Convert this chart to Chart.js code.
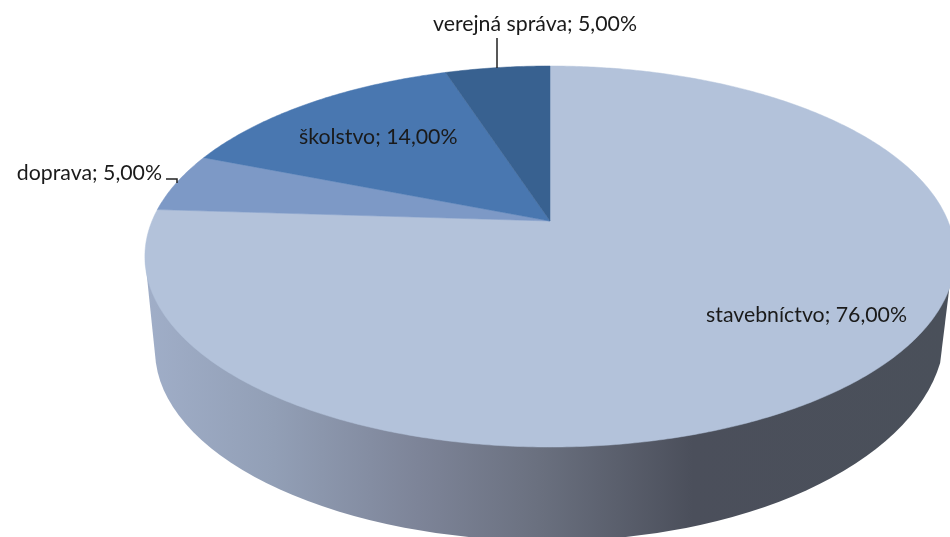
<!DOCTYPE html>
<html>
<head>
<meta charset="utf-8">
<style>html,body{margin:0;padding:0;background:#fff}#wrap{width:950px;height:537px;overflow:hidden}</style>
<script src="https://cdn.jsdelivr.net/npm/chart.js@4"></script>
</head>
<body>
<div id="wrap"><canvas id="c" width="950" height="537"></canvas></div>
<script>
const categories = ['stavebníctvo', 'doprava', 'školstvo', 'verejná správa'];
const shares = [76, 5, 14, 5];
const sliceColors = ['#b3c2da', '#7d99c6', '#4977b0', '#386190'];

// View of the tilted disc
const apexX = 550, apexY = 221, radX = 398, radY = 183.9, tilt = 0.1864;
const labelSpots = [[907, 322, 'right'], [162, 180, 'right'], [299, 144, 'left'], [433, 31, 'left']];
const FONT = '21.3px Lato';

function project(a) {
  const X = Math.cos(a), Y = Math.sin(a), w = 1 - tilt * Y;
  return [apexX + radX * X / w, apexY + radY * Y / w];
}

const disc3d = {
  id: 'disc3d',
  beforeDatasetsDraw(chart) {
    const ctx = chart.ctx;
    ctx.save();
    // side wall
    const g = ctx.createLinearGradient(145, 0, 950, 0);
    g.addColorStop(0, '#a0aec8');
    g.addColorStop(0.16, '#929fb6');
    g.addColorStop(0.34, '#7d8498');
    g.addColorStop(0.49, '#6a707f');
    g.addColorStop(0.68, '#4b4f5b');
    g.addColorStop(1, '#4a505a');
    ctx.fillStyle = g;
    ctx.beginPath();
    ctx.moveTo(145, 258);
    ctx.ellipse(549, 350, 394, 191, 0, Math.PI - 0.068, Math.PI / 2, true);
    ctx.ellipse(549, 330, 396, 211, 0, Math.PI / 2, 0.157, true);
    ctx.lineTo(953, 258);
    ctx.closePath();
    ctx.fill();
    // top face, from the library's arc elements
    chart.getDatasetMeta(0).data.forEach((arc, i) => {
      const steps = Math.ceil((arc.endAngle - arc.startAngle) / 0.01);
      ctx.beginPath();
      ctx.moveTo(apexX, apexY);
      for (let s = 0; s <= steps; s++) {
        const p = project(arc.startAngle + (arc.endAngle - arc.startAngle) * s / steps);
        ctx.lineTo(p[0], p[1]);
      }
      ctx.closePath();
      ctx.fillStyle = sliceColors[i];
      ctx.strokeStyle = sliceColors[i];
      ctx.lineWidth = 0.5;
      ctx.fill();
      ctx.stroke();
    });
    ctx.restore();
    return false;
  },
  afterDraw(chart) {
    const ctx = chart.ctx;
    ctx.save();
    // leader lines
    ctx.strokeStyle = '#222';
    ctx.lineWidth = 1.5;
    ctx.beginPath();
    ctx.moveTo(497, 38); ctx.lineTo(497, 68);
    ctx.moveTo(166, 179); ctx.lineTo(177, 179); ctx.lineTo(177, 183);
    ctx.stroke();
    // labels
    ctx.font = FONT;
    ctx.fillStyle = '#1a1a1a';
    ctx.textBaseline = 'alphabetic';
    categories.forEach((name, i) => {
      const s = labelSpots[i];
      ctx.textAlign = s[2];
      ctx.fillText(name + '; ' + shares[i].toFixed(2).replace('.', ',') + '%', s[0], s[1]);
    });
    ctx.restore();
  }
};

new Chart(document.getElementById('c'), {
  type: 'pie',
  data: { labels: categories, datasets: [{ data: shares, backgroundColor: sliceColors, borderWidth: 0 }] },
  options: {
    responsive: false,
    animation: false,
    plugins: { legend: { display: false }, tooltip: { enabled: false } }
  },
  plugins: [disc3d]
});
</script>
</body>
</html>
